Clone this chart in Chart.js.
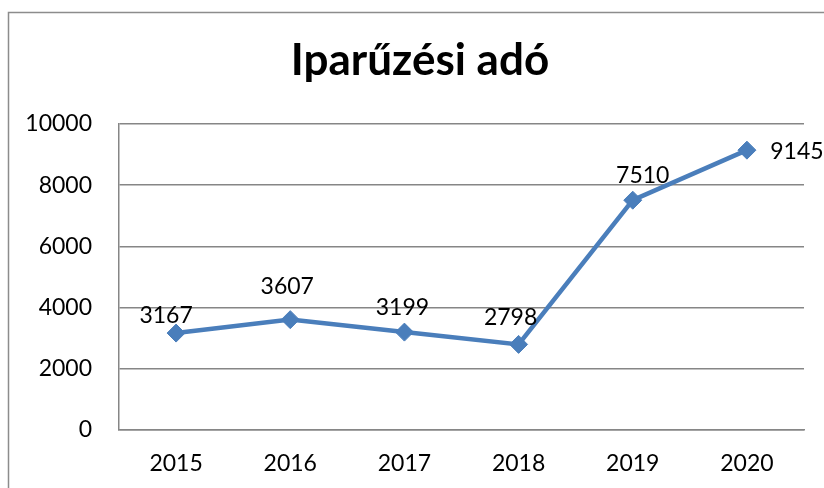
<!DOCTYPE html>
<html>
<head>
<meta charset="utf-8">
<script src="https://cdn.jsdelivr.net/npm/chart.js@4"></script>
<style>
  html, body { margin: 0; padding: 0; background: #fff; }
  #wrap { width: 824px; height: 488px; position: relative; }
</style>
</head>
<body>
<div id="wrap"><canvas id="myChart"></canvas></div>
<script>
// data
const chartTitle = 'Iparűzési adó';
const years = ['2015', '2016', '2017', '2018', '2019', '2020'];
const values = [3167, 3607, 3199, 2798, 7510, 9145];
const yTicks = [0, 2000, 4000, 6000, 8000, 10000];

// label nudges (px) so the numbers sit like in the original
const labelOffsets = [[-10, -18], [-3, -33], [-2, -25], [-8, -27], [10, -25], [50, 1]];

const blue = '#4A7EBB';
const gridGray = '#868686';

// outer frame + title (centred on the frame, not the plot)
const frame = {
  id: 'frame',
  beforeDraw(chart) {
    const { ctx } = chart;
    ctx.save();
    ctx.strokeStyle = '#8c8c8c';
    ctx.lineWidth = 1.5;
    ctx.strokeRect(8.5, 12.5, 900, 600);
    ctx.font = 'bold 44px Lato';
    ctx.fillStyle = '#000';
    ctx.textAlign = 'center';
    ctx.textBaseline = 'alphabetic';
    ctx.fillText(chartTitle, 420, 75);
    ctx.restore();
  }
};

// value labels
const valueLabels = {
  id: 'valueLabels',
  afterDatasetsDraw(chart) {
    const { ctx } = chart;
    const meta = chart.getDatasetMeta(0);
    ctx.save();
    ctx.font = '23px Lato';
    ctx.fillStyle = '#000';
    ctx.textAlign = 'center';
    ctx.textBaseline = 'middle';
    meta.data.forEach((pt, i) => {
      const off = labelOffsets[i] || [0, -25];
      ctx.fillText(String(values[i]), pt.x + off[0], pt.y + off[1]);
    });
    ctx.restore();
  }
};

const data = {
  labels: years,
  datasets: [{
    label: chartTitle,
    data: values,
    borderColor: blue,
    backgroundColor: blue,
    borderWidth: 4.5,
    pointStyle: 'rectRot',
    pointRadius: 9,
    pointHoverRadius: 9,
    pointBorderWidth: 1,
    pointBackgroundColor: blue,
    pointBorderColor: blue,
    tension: 0,
    clip: false
  }]
};

const config = {
  type: 'line',
  data,
  options: {
    responsive: true,
    maintainAspectRatio: false,
    animation: false,
    layout: { padding: { left: 0, right: 20, top: 124, bottom: 0 } },
    plugins: {
      legend: { display: false },
      tooltip: { enabled: false },
      title: { display: false }
    },
    scales: {
      x: {
        offset: true,
        grid: { display: false, drawTicks: false },
        border: { color: gridGray, width: 1.5 },
        ticks: { color: '#000', padding: 20, font: { family: 'Lato', size: 23 } },
        afterFit(scale) { scale.height = 58; }
      },
      y: {
        min: 0,
        max: 10000,
        afterBuildTicks(scale) { scale.ticks = yTicks.map(v => ({ value: v })); },
        grid: { color: gridGray, lineWidth: 1.5, drawTicks: false },
        border: { color: gridGray, width: 1.5 },
        ticks: {
          color: '#000',
          padding: 27,
          font: { family: 'Lato', size: 23 },
          callback: (v) => String(v)
        },
        afterFit(scale) { scale.width = 119; }
      }
    }
  },
  plugins: [frame, valueLabels]
};

const myChart = new Chart(document.getElementById('myChart'), config);
</script>
</body>
</html>
